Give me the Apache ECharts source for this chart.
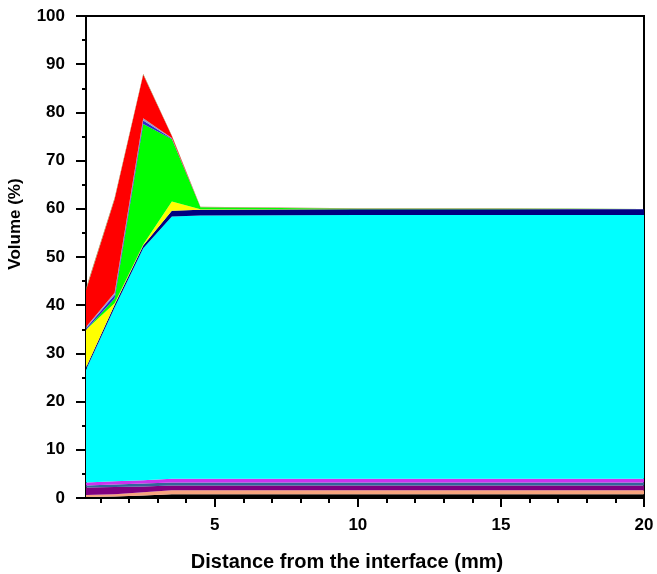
<!DOCTYPE html>
<html>
<head>
<meta charset="utf-8">
<script src="https://cdn.jsdelivr.net/npm/echarts@6/dist/echarts.min.js"></script>
<style>html,body{margin:0;padding:0;background:#fff}#c{width:657px;height:574px}</style>
</head>
<body>
<div id="c"></div>
<script>
// x positions (mm)
var distance = [0.5, 1.5, 2.5, 3.5, 4.5, 10, 15, 20];
// layer thicknesses (% volume), bottom to top
var layerBlack    = [0.2, 0.3, 0.5, 0.8, 0.8, 0.8, 0.8, 0.8];
var layerSalmon   = [0.4, 0.5, 0.7, 0.8, 0.8, 0.8, 0.8, 0.8];
var layerPurple   = [1.6, 1.5, 1.2, 1.0, 1.0, 1.0, 1.0, 1.0];
var layerTeal     = [0.4, 0.5, 0.6, 0.6, 0.6, 0.6, 0.6, 0.6];
var layerMagenta  = [0.6, 0.7, 0.7, 0.8, 0.8, 0.8, 0.8, 0.8];
var layerCyan     = [23.4, 36.0, 48.1, 54.4, 54.6, 54.7, 54.7, 54.7];
var layerNavy     = [0.5, 0.6, 0.6, 1.2, 1.2, 1.2, 1.2, 1.2];
var layerYellow   = [7.8, 0.3, 0.2, 1.9, 0.1, 0, 0, 0];
var layerGreen    = [0, 1.0, 25.0, 13.0, 0.4, 0.1, 0.1, 0.1];
var layerBlue     = [0.3, 0.7, 0.7, 0.1, 0, 0, 0, 0];
var layerLavender = [0.3, 0.5, 0.5, 0.1, 0, 0, 0, 0];
var layerRed      = [7.6, 19.4, 9.0, 0.4, 0, 0, 0, 0];
var layerOlive    = [0.4, 0.3, 0.2, 0.1, 0.15, 0.1, 0.1, 0.1];

var xMajorTicks = [5, 10, 15, 20];
var xMinorTicks = [1, 2, 3, 4, 6, 7, 8, 9, 11, 12, 13, 14, 16, 17, 18, 19];

var layers = [
  {name: 'L1', data: layerBlack, color: '#000000'},
  {name: 'L2', data: layerSalmon, color: '#f7a47e'},
  {name: 'L3', data: layerPurple, color: '#800080'},
  {name: 'L4', data: layerTeal, color: '#33669a'},
  {name: 'L5', data: layerMagenta, color: '#cc33ee'},
  {name: 'L6', data: layerCyan, color: '#00ffff'},
  {name: 'L7', data: layerNavy, color: '#000080'},
  {name: 'L8', data: layerYellow, color: '#ffff00'},
  {name: 'L9', data: layerGreen, color: '#00ff00'},
  {name: 'L10', data: layerBlue, color: '#2a2ad0'},
  {name: 'L11', data: layerLavender, color: '#9a9ac8'},
  {name: 'L12', data: layerRed, color: '#ff0000'},
  {name: 'L13', data: layerOlive, color: '#a08040'}
];

var series = layers.map(function (l) {
  return {
    name: l.name,
    type: 'line',
    stack: 'total',
    symbol: 'none',
    smooth: false,
    lineStyle: {width: 0},
    areaStyle: {color: l.color, opacity: 1},
    itemStyle: {color: l.color},
    encode: {x: 1, y: 0},
    data: distance.map(function (x, i) { return [l.data[i], x]; })
  };
});

var font = 'Liberation Sans, Arial, sans-serif';
var chart = echarts.init(document.getElementById('c'));
chart.setOption({
  animation: false,
  backgroundColor: '#fff',
  grid: {left: 86, right: 13, top: 16, bottom: 76, outerBoundsMode: 'none', containLabel: false, show: true, borderColor: '#000', borderWidth: 2, backgroundColor: 'transparent'},
  xAxis: [{
    type: 'value', min: 0.5, max: 20, position: 'bottom',
    name: 'Distance from the interface (mm)', nameLocation: 'middle', nameGap: 54,
    nameTextStyle: {fontFamily: font, fontWeight: 'bold', fontSize: 20, color: '#000', padding: [0, 36, 0, 0]},
    axisLine: {show: true, onZero: false, lineStyle: {color: '#000', width: 2}},
    axisTick: {show: true, customValues: xMajorTicks, length: 9, lineStyle: {color: '#000', width: 2}},
    axisLabel: {customValues: xMajorTicks, margin: 19, fontFamily: font, fontWeight: 'bold', fontSize: 17, color: '#000'},
    splitLine: {show: false}
  }, {
    type: 'value', min: 0.5, max: 20, position: 'bottom',
    axisLine: {show: false},
    axisTick: {show: true, customValues: xMinorTicks, length: 5, lineStyle: {color: '#000', width: 2}},
    axisLabel: {show: false},
    splitLine: {show: false}
  }],
  yAxis: {
    type: 'value', min: 0, max: 100, interval: 10,
    name: 'Volume (%)', nameLocation: 'middle', nameGap: 62, nameRotate: 90,
    nameTextStyle: {fontFamily: font, fontWeight: 'bold', fontSize: 17, color: '#000', padding: [0, 0, 0, 66]},
    axisLine: {show: true, lineStyle: {color: '#000', width: 2}},
    axisTick: {show: true, length: 10, lineStyle: {color: '#000', width: 2}},
    minorTick: {show: true, splitNumber: 2, length: 4, lineStyle: {color: '#000', width: 2}},
    axisLabel: {margin: 21, fontFamily: font, fontWeight: 'bold', fontSize: 17, color: '#000'},
    splitLine: {show: false}
  },
  series: series
});
</script>
</body>
</html>
